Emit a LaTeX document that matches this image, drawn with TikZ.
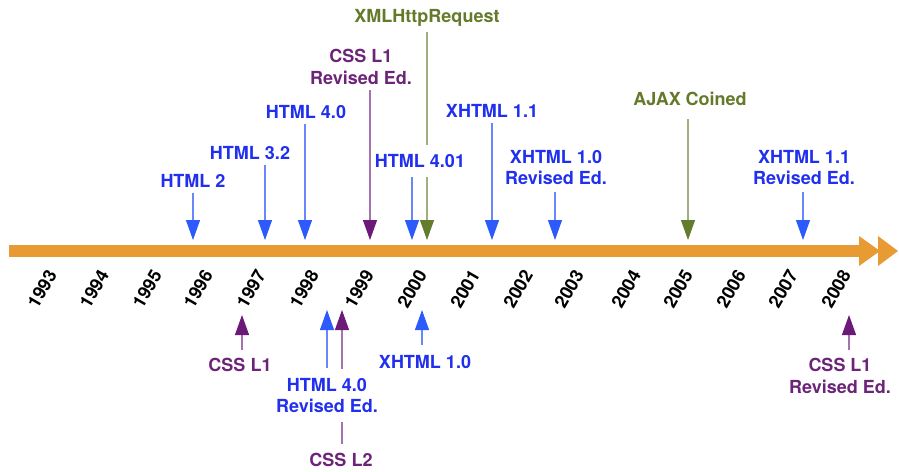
\documentclass[tikz,border=0pt]{standalone}
\usepackage{fontspec}
\setmainfont{TeX Gyre Heros}
\usetikzlibrary{arrows.meta}
\pgfdeclarelayer{bg}
\pgfsetlayers{bg,main}
\definecolor{bluetext}{RGB}{32,48,238}
\definecolor{bluehead}{RGB}{45,90,250}
\definecolor{blueline}{RGB}{105,135,250}
\definecolor{purtext}{RGB}{108,36,120}
\definecolor{purhead}{RGB}{108,26,120}
\definecolor{purline}{RGB}{165,115,175}
\definecolor{grtext}{RGB}{100,122,42}
\definecolor{grhead}{RGB}{100,125,45}
\definecolor{grline}{RGB}{160,175,130}
\definecolor{barorange}{RGB}{232,154,51}
\begin{document}
\begin{tikzpicture}[x=1pt,y=-1pt,
  lab/.style={font=\fontsize{18}{21.6}\selectfont\bfseries, inner sep=2pt, align=center},
  bl/.style={lab, text=bluetext},
  pu/.style={lab, text=purtext},
  gr/.style={lab, text=grtext},
  yr/.style={font=\fontsize{18}{21.6}\selectfont\bfseries, rotate=60, inner sep=0pt},
  conn/.style={line width=1.1pt, shorten <=3pt},
  blarr/.style={conn, draw=blueline, -{Triangle[width=14pt,length=20pt,color=bluehead]}},
  puarr/.style={conn, draw=purline, -{Triangle[width=14pt,length=20pt,color=purhead]}},
  grarr/.style={conn, draw=grline, -{Triangle[width=14pt,length=20pt,color=grhead]}}]
\useasboundingbox (0,0) rectangle (899,471);

% timeline bar
\fill[barorange] (9,245) rectangle (861,257);
\fill[barorange] (859,236) -- (880,251) -- (859,266) -- cycle;
\fill[barorange] (878,236) -- (898,251) -- (878,266) -- cycle;

% years
\node[yr] (y1993) at (42,289) {1993};
\node[yr] (y1994) at (94,289) {1994};
\node[yr] (y1995) at (147,289) {1995};
\node[yr] (y1996) at (198,289) {1996};
\node[yr] (y1997) at (251,289) {1997};
\node[yr] (y1998) at (304,289) {1998};
\node[yr] (y1999) at (359,289) {1999};
\node[yr] (y2000) at (412,289) {2000};
\node[yr] (y2001) at (465,289) {2001};
\node[yr] (y2002) at (518,289) {2002};
\node[yr] (y2003) at (569,289) {2003};
\node[yr] (y2004) at (626,289) {2004};
\node[yr] (y2005) at (678,289) {2005};
\node[yr] (y2006) at (731,289) {2006};
\node[yr] (y2007) at (783,289) {2007};
\node[yr] (y2008) at (836,289) {2008};

% tips above the bar
\coordinate (t-h2) at (193,240);
\coordinate (t-h32) at (265,240);
\coordinate (t-h40) at (305,240);
\coordinate (t-c1r) at (370,240);
\coordinate (t-h401) at (412,240);
\coordinate (t-xhr) at (427,240);
\coordinate (t-x11) at (492,240);
\coordinate (t-x10r) at (555,240);
\coordinate (t-ajax) at (688,240);
\coordinate (t-x11r) at (803,240);
% tips below the bar
\coordinate (u-c1) at (242,315);
\coordinate (u-h40r) at (327,310);
\coordinate (u-c2) at (342,310);
\coordinate (u-x10) at (422,310);
\coordinate (u-c1r) at (849,315);

% labels above
\node[bl] (h2) at (193,181) {HTML 2};
\node[bl] (h32) at (250,153) {HTML 3.2};
\node[bl] (h40) at (306,112) {HTML 4.0};
\node[pu] (c1r) at (361,67) {CSS L1\\Revised Ed.};
\node[bl, fill=white, inner ysep=9pt] (h401) at (420,161) {HTML 4.01};
\node[gr] (xhr) at (427,18) {XMLHttpRequest};
\node[bl] (x11) at (492,111) {XHTML 1.1};
\node[bl] (x10r) at (556,167.5) {XHTML 1.0\\Revised Ed.};
\node[gr] (ajax) at (690,99) {AJAX Coined};
\node[bl] (x11r) at (804,167.5) {XHTML 1.1\\Revised Ed.};

% labels below
\node[pu] (c1) at (240,365) {CSS L1};
\node[bl, fill=white, inner ysep=9pt] (h40r) at (327,395.5) {HTML 4.0\\Revised Ed.};
\node[pu] (c2) at (341,460) {CSS L2};
\node[bl] (x10) at (425,362) {XHTML 1.0};
\node[pu] (c1rb) at (840,376) {CSS L1\\Revised Ed.};

\begin{pgfonlayer}{bg}
\draw[blarr] (h2.south -| t-h2) -- (t-h2);
\draw[blarr] (h32.south -| t-h32) -- (t-h32);
\draw[blarr] (h40.south -| t-h40) -- (t-h40);
\draw[puarr] (c1r.south -| t-c1r) -- (t-c1r);
\draw[blarr, shorten <=0pt] (h401.south -| t-h401) -- (t-h401);
\draw[grarr] (xhr.south -| t-xhr) -- (t-xhr);
\draw[blarr] (x11.south -| t-x11) -- (t-x11);
\draw[blarr, shorten <=5pt] (x10r.south -| t-x10r) -- (t-x10r);
\draw[grarr, shorten <=11pt] (ajax.south -| t-ajax) -- (t-ajax);
\draw[blarr, shorten <=5pt] (x11r.south -| t-x11r) -- (t-x11r);

\draw[puarr, shorten <=6pt] (c1.north -| u-c1) -- (u-c1);
\draw[blarr, shorten <=1pt] (h40r.north -| u-h40r) -- (u-h40r);
\draw[puarr, shorten <=7pt] (c2.north -| u-c2) -- (u-c2);
\draw[blarr, shorten <=8pt] (x10.north -| u-x10) -- (u-x10);
\draw[puarr, shorten <=6pt] (c1rb.north -| u-c1r) -- (u-c1r);
\end{pgfonlayer}
\end{tikzpicture}
\end{document}
